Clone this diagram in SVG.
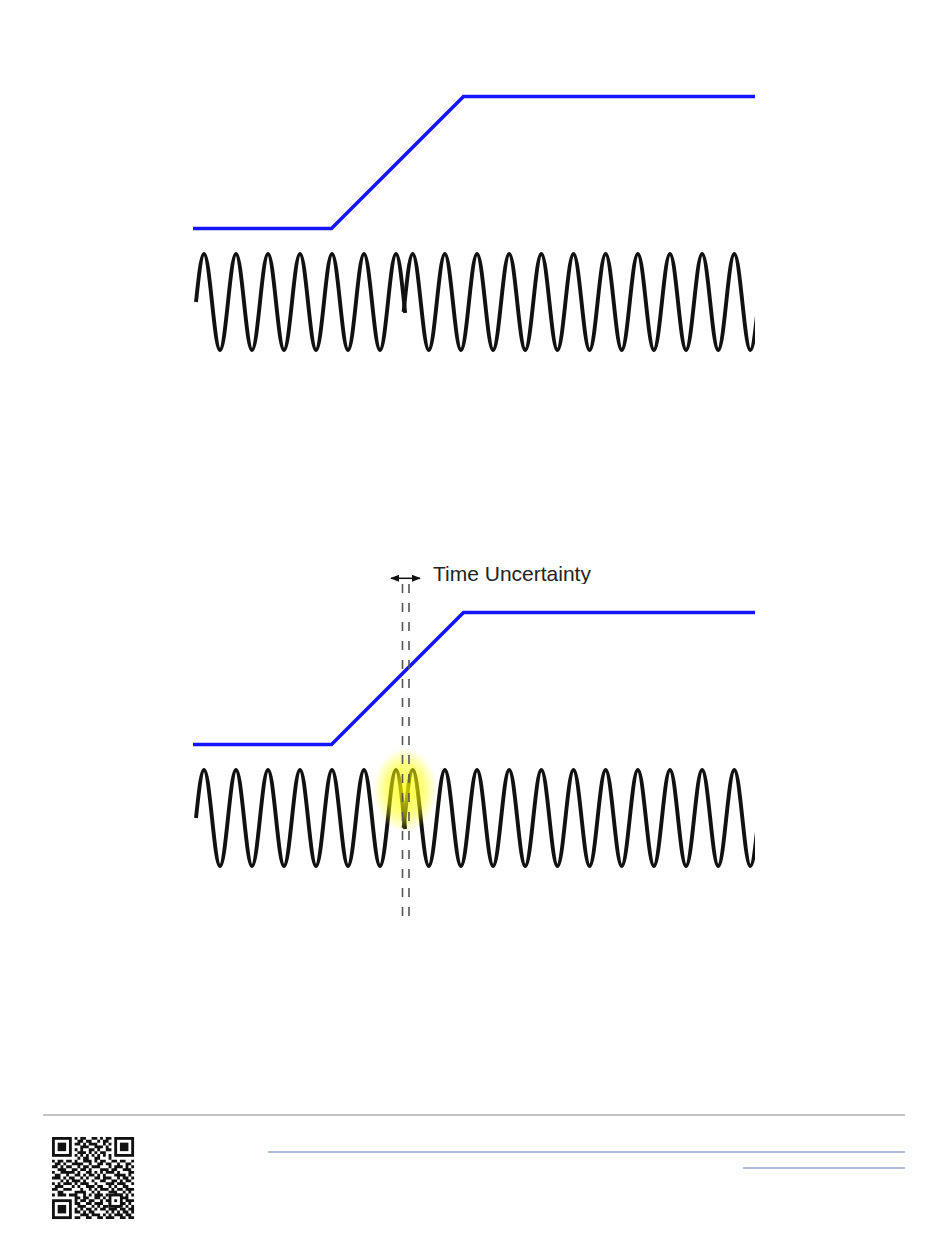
<svg xmlns="http://www.w3.org/2000/svg" xmlns:xlink="http://www.w3.org/1999/xlink" width="950" height="1241" viewBox="0 0 950 1241">
<style>
.wave{fill:none;stroke:#111;stroke-width:3.9;stroke-linejoin:round}
.ramp{fill:none;stroke:#1414ff;stroke-width:3.6;stroke-linejoin:miter}
.dash{fill:none;stroke:#555;stroke-width:1.6;stroke-dasharray:9 10}
.label{font-family:"Liberation Sans",Arial,sans-serif;font-size:21px;fill:#222}
.rule{stroke:#8a8a8a;stroke-width:1.2}
.link{stroke:#5a7ab5;stroke-width:1.1}
</style>
<defs>
<clipPath id="clipR"><rect x="0" y="-1000" width="755" height="3000"/></clipPath>
<clipPath id="clipT"><rect x="420" y="550" width="220" height="34"/></clipPath>
<radialGradient id="glow" cx="0.5" cy="0.5" r="0.5">
<stop offset="0" stop-color="#ffff00" stop-opacity="0.75"/>
<stop offset="0.6" stop-color="#ffff00" stop-opacity="0.5"/>
<stop offset="1" stop-color="#ffff00" stop-opacity="0"/>
</radialGradient>
<marker id="ah" viewBox="0 0 10 8" refX="9" refY="4" markerWidth="6" markerHeight="4.8" orient="auto-start-reverse" markerUnits="strokeWidth">
<path d="M0 0L10 4L0 8z" fill="#111"/>
</marker>
<g id="wave" clip-path="url(#clipR)">
<path class="wave" d="M196 302c2.609 -24.59 5.105 -48 8 -48
s5.391 23.41 8 48s5.105 48 8 48s5.391 -23.41 8 -48s5.105 -48 8 -48
s5.391 23.41 8 48s5.105 48 8 48s5.391 -23.41 8 -48s5.105 -48 8 -48
s5.391 23.41 8 48s5.105 48 8 48s5.391 -23.41 8 -48s5.105 -48 8 -48
s5.391 23.41 8 48s5.105 48 8 48s5.391 -23.41 8 -48s5.105 -48 8 -48
s5.391 23.41 8 48s5.105 48 8 48s5.391 -23.41 8 -48s5.105 -48 8 -48
s5.391 23.41 8 48s5.105 48 8 48s5.391 -23.41 8 -48s5.105 -48 8 -48
s5.391 23.41 8 48l1.2 11"/>
<path class="wave" d="M403.6 311.9L404.66 302c2.622 -24.59 5.13 -48 8.04 -48
s5.418 23.41 8.04 48s5.13 48 8.04 48s5.418 -23.41 8.04 -48s5.13 -48 8.04 -48
s5.418 23.41 8.04 48s5.13 48 8.04 48s5.418 -23.41 8.04 -48s5.13 -48 8.04 -48
s5.418 23.41 8.04 48s5.13 48 8.04 48s5.418 -23.41 8.04 -48s5.13 -48 8.04 -48
s5.418 23.41 8.04 48s5.13 48 8.04 48s5.418 -23.41 8.04 -48s5.13 -48 8.04 -48
s5.418 23.41 8.04 48s5.13 48 8.04 48s5.418 -23.41 8.04 -48s5.13 -48 8.04 -48
s5.418 23.41 8.04 48s5.13 48 8.04 48s5.418 -23.41 8.04 -48s5.13 -48 8.04 -48
s5.418 23.41 8.04 48s5.13 48 8.04 48s5.418 -23.41 8.04 -48s5.13 -48 8.04 -48
s5.418 23.41 8.04 48s5.13 48 8.04 48s5.418 -23.41 8.04 -48s5.13 -48 8.04 -48
s5.418 23.41 8.04 48s5.13 48 8.04 48s5.418 -23.41 8.04 -48s5.13 -48 8.04 -48
s5.418 23.41 8.04 48s5.13 48 8.04 48s5.418 -23.41 8.04 -48s5.13 -48 8.04 -48
s5.418 23.41 8.04 48s5.13 48 8.04 48s5.418 -23.41 8.04 -48s5.13 -48 8.04 -48"/>
</g>
</defs>
<rect width="950" height="1241" fill="#ffffff"/>

<g id="top-figure">
<g id="top-ramp"><path class="ramp" d="M193 228.5H331.5L463.5 96.5H755"/></g>
<g id="top-wave"><use xlink:href="#wave" href="#wave"/></g>
</g>

<g id="bottom-figure">
<g id="bottom-ramp"><path class="ramp" d="M193 744.5H331.5L463.5 612.5H755"/></g>
<g id="bottom-wave"><use xlink:href="#wave" href="#wave" transform="translate(0,516)"/></g>
<g id="glitch-glow"><ellipse cx="405" cy="790" rx="32" ry="42" fill="url(#glow)"/></g>
<g id="connectors">
<path class="dash" d="M402.5 584V920M409 584V920"/>
<path d="M391 578.3H420" stroke="#111" stroke-width="1.5" fill="none" marker-start="url(#ah)" marker-end="url(#ah)"/>
</g>
<g id="time-uncertainty-label" clip-path="url(#clipT)">
<text class="label" x="433" y="581">Time Uncertainty</text>
</g>
</g>

<g id="footer">
<line class="rule" x1="43" y1="1115" x2="905" y2="1115"/>
<line class="link" x1="268" y1="1152" x2="905" y2="1152"/>
<line class="link" x1="743" y1="1168" x2="905" y2="1168"/>
<g id="qr" transform="translate(52,1137) scale(2.83)">
<path fill="none" stroke="#111" stroke-width="1" d="M8 0.5h1M10 0.5h2M14 0.5h2M17 0.5h1M19 0.5h2
M9 1.5h2M12 1.5h2M16 1.5h1M18 1.5h2
M8 2.5h2M11 2.5h1M13 2.5h3M18 2.5h1M20 2.5h1
M10 3.5h3M15 3.5h3M19 3.5h1
M8 4.5h1M10 4.5h1M13 4.5h2M16 4.5h1M19 4.5h2
M9 5.5h3M13 5.5h1M15 5.5h1M17 5.5h2
M8 6.5h1M10 6.5h1M12 6.5h1M14 6.5h1M16 6.5h1M18 6.5h1M20 6.5h1
M9 7.5h1M11 7.5h2M15 7.5h2M20 7.5h1
M0 8.5h1M2 8.5h2M5 8.5h2M8 8.5h1M11 8.5h3M15 8.5h1M17 8.5h2M21 8.5h2M24 8.5h2M28 8.5h1
M1 9.5h2M4 9.5h1M7 9.5h4M13 9.5h1M16 9.5h2M19 9.5h2M23 9.5h1M26 9.5h2
M0 10.5h2M3 10.5h1M5 10.5h2M9 10.5h1M11 10.5h2M14 10.5h3M20 10.5h1M22 10.5h3M26 10.5h1M28 10.5h1
M2 11.5h3M7 11.5h2M10 11.5h2M13 11.5h1M17 11.5h3M21 11.5h2M25 11.5h3
M0 12.5h1M3 12.5h5M9 12.5h1M12 12.5h2M15 12.5h1M17 12.5h1M19 12.5h3M23 12.5h1M27 12.5h2
M1 13.5h2M5 13.5h1M8 13.5h2M11 13.5h1M13 13.5h2M16 13.5h1M18 13.5h1M22 13.5h4M27 13.5h1
M0 14.5h3M4 14.5h1M6 14.5h2M10 14.5h1M12 14.5h1M15 14.5h2M18 14.5h3M23 14.5h1M25 14.5h2M28 14.5h1
M3 15.5h1M5 15.5h1M7 15.5h3M11 15.5h1M14 15.5h1M17 15.5h2M21 15.5h2M24 15.5h1M26 15.5h2
M0 16.5h1M2 16.5h1M4 16.5h3M8 16.5h1M10 16.5h3M15 16.5h1M19 16.5h3M23 16.5h3M28 16.5h1
M1 17.5h3M7 17.5h1M9 17.5h1M12 17.5h3M16 17.5h2M20 17.5h1M22 17.5h1M25 17.5h2
M0 18.5h2M4 18.5h3M10 18.5h1M13 18.5h1M15 18.5h1M17 18.5h3M21 18.5h1M23 18.5h2M26 18.5h3
M2 19.5h2M8 19.5h4M14 19.5h1M16 19.5h1M20 19.5h3M25 19.5h1M27 19.5h1
M0 20.5h1M2 20.5h3M6 20.5h3M11 20.5h1M13 20.5h1M15 20.5h3M19 20.5h1M22 20.5h3M26 20.5h1M28 20.5h1
M8 21.5h2M11 21.5h2M15 21.5h2M18 21.5h1M21 21.5h2M24 21.5h3
M8 22.5h1M10 22.5h2M13 22.5h2M17 22.5h1M19 22.5h2M23 22.5h1M26 22.5h3
M8 23.5h2M12 23.5h2M15 23.5h3M20 23.5h2M23 23.5h3M27 23.5h1
M9 24.5h3M14 24.5h1M16 24.5h1M18 24.5h2M22 24.5h2M26 24.5h1M28 24.5h1
M8 25.5h1M10 25.5h1M12 25.5h2M15 25.5h1M17 25.5h2M20 25.5h3M24 25.5h2M27 25.5h2
M8 26.5h2M11 26.5h1M13 26.5h2M19 26.5h1M21 26.5h1M23 26.5h1M25 26.5h2M28 26.5h1
M10 27.5h3M14 27.5h3M18 27.5h1M20 27.5h1M22 27.5h3M26 27.5h2
M8 28.5h2M12 28.5h2M16 28.5h2M19 28.5h3M24 28.5h2M27 28.5h2"/>
<rect x="20" y="20" width="5" height="5" fill="#111"/>
<rect x="21" y="21" width="3" height="3" fill="#fff"/>
<rect x="22" y="22" width="1" height="1" fill="#111"/>
<rect x="0" y="0" width="7" height="7" fill="#111"/>
<rect x="1" y="1" width="5" height="5" fill="#fff"/>
<rect x="2" y="2" width="3" height="3" fill="#111"/>
<rect x="22" y="0" width="7" height="7" fill="#111"/>
<rect x="23" y="1" width="5" height="5" fill="#fff"/>
<rect x="24" y="2" width="3" height="3" fill="#111"/>
<rect x="0" y="22" width="7" height="7" fill="#111"/>
<rect x="1" y="23" width="5" height="5" fill="#fff"/>
<rect x="2" y="24" width="3" height="3" fill="#111"/>
</g>
</g>
</svg>
